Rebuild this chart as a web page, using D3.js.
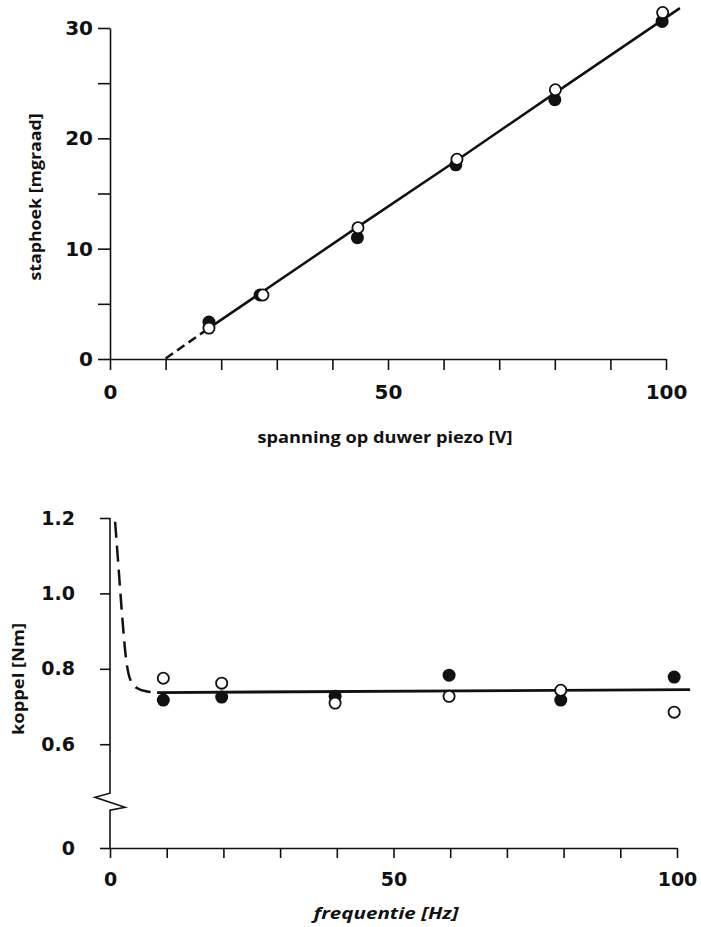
<!DOCTYPE html>
<html>
<head>
<meta charset="utf-8">
<script src="https://cdn.jsdelivr.net/npm/d3@7"></script>
<style>
  body { margin: 0; background: #fff; }
  text { font-family: "DejaVu Sans", sans-serif; font-weight: 700; fill: #111; }
  .title { font-family: "Open Sans", Lato, sans-serif; font-weight: 700; }
</style>
</head>
<body>
<div id="viz"></div>
<script>
// ---- data: top chart (step angle vs piezo voltage)
var top_x_filled = [17.8, 27.0, 44.5, 62.2, 80.0, 99.3];
var top_y_filled = [3.35, 5.8, 11.0, 17.6, 23.5, 30.6];
var top_x_open = [17.8, 27.5, 44.6, 62.4, 80.1, 99.4];
var top_y_open = [2.8, 5.8, 11.9, 18.1, 24.4, 31.4];
var top_fit_dash = [[10, 0.05], [17.8, 2.8]];
var top_fit_solid = [[17.8, 2.8], [44.5, 11.95], [62.2, 17.95], [80, 24.1], [102.5, 31.8]];
var top_x_ticks = [0, 10, 20, 30, 40, 50, 60, 70, 80, 90, 100];
var top_y_ticks = [0, 5, 10, 15, 20, 25, 30];
var top_x_labels = [0, 50, 100];
var top_y_labels = [0, 10, 20, 30];

// ---- data: bottom chart (torque vs frequency)
var bot_freq = [9.4, 19.7, 39.7, 59.8, 79.5, 99.5];
var bot_filled = [0.717, 0.725, 0.727, 0.783, 0.717, 0.778];
var bot_open = [0.775, 0.762, 0.709, 0.727, 0.743, 0.685];
var bot_fit_dash = [[0.9, 1.19], [1.5, 1.07], [2.2, 0.93], [2.8, 0.83], [3.3, 0.785], [4.0, 0.76], [5.0, 0.747], [6.5, 0.74], [8.3, 0.737]];
var bot_fit_solid = [[8.3, 0.737], [102.3, 0.745]];
var bot_x_ticks = [0, 10, 20, 30, 40, 50, 60, 70, 80, 90, 100];
var bot_x_labels = [0, 50, 100];
var bot_y_ticks = [0, 0.6, 0.8, 1.0, 1.2];
var bot_y_labels = ["0", "0.6", "0.8", "1.0", "1.2"];

var svg = d3.select("#viz")
    .append("svg")
    .attr("width", 701)
    .attr("height", 927);

svg.append("rect").attr("width", 701).attr("height", 927).attr("fill", "#fff");

// helper for the axis titles (stretched to the reference length)
function addTitle(x, y, rot, len, txt, italic) {
    svg.append("text")
        .attr("class", "title")
        .attr("text-anchor", "middle")
        .attr("transform", "translate(" + x + "," + y + ")" + (rot ? " rotate(-90)" : ""))
        .attr("textLength", len)
        .attr("lengthAdjust", "spacingAndGlyphs")
        .style("font-size", "16px")
        .style("font-style", italic ? "italic" : "normal")
        .text(txt);
}

// ================= top chart =================
var x1 = d3.scaleLinear().domain([0, 100]).range([110, 666]);
var y1 = d3.scaleLinear().domain([0, 30]).range([359, 28]);

// X axis
var gx1 = svg.append("g")
    .attr("transform", "translate(0," + y1(0) + ")")
    .call(d3.axisBottom(x1)
        .tickValues(top_x_ticks)
        .tickSize(11)
        .tickSizeOuter(0)
        .tickPadding(15)
        .tickFormat(function (d) { return top_x_labels.indexOf(d) >= 0 ? d : ""; }));

// Y axis
var gy1 = svg.append("g")
    .attr("transform", "translate(" + x1(0) + ",0)")
    .call(d3.axisLeft(y1)
        .tickValues(top_y_ticks)
        .tickSize(12)
        .tickSizeOuter(0)
        .tickPadding(5)
        .tickFormat(function (d) { return top_y_labels.indexOf(d) >= 0 ? d : ""; }));

[gx1, gy1].forEach(function (g) {
    g.select(".domain").attr("stroke", "#111").attr("stroke-width", 1.6);
    g.selectAll(".tick line").attr("stroke", "#111").attr("stroke-width", 1.6);
    g.selectAll(".tick text").style("font-size", "20px").attr("fill", "#111");
});

// axis titles
addTitle(385, 443, false, 255, "spanning op duwer piezo [V]", false);
addTitle(41, 197, true, 167, "staphoek [mgraad]", false);

var line1 = d3.line()
    .x(function (d) { return x1(d[0]); })
    .y(function (d) { return y1(d[1]); });

// fit line, dashed near the origin
svg.append("path")
    .attr("d", line1(top_fit_dash))
    .attr("fill", "none")
    .attr("stroke", "#111")
    .attr("stroke-width", 2.5)
    .attr("stroke-dasharray", "9,5");

svg.append("path")
    .attr("d", line1(top_fit_solid))
    .attr("fill", "none")
    .attr("stroke", "#111")
    .attr("stroke-width", 2.5);

// filled points first, open points on top
svg.selectAll(".topFilled")
    .data(top_x_filled)
    .enter()
    .append("circle")
    .attr("cx", function (d) { return x1(d); })
    .attr("cy", function (d, i) { return y1(top_y_filled[i]); })
    .attr("r", 6.5)
    .attr("fill", "#111");

svg.selectAll(".topOpen")
    .data(top_x_open)
    .enter()
    .append("circle")
    .attr("cx", function (d) { return x1(d); })
    .attr("cy", function (d, i) { return y1(top_y_open[i]); })
    .attr("r", 5.6)
    .attr("fill", "#fff")
    .attr("stroke", "#111")
    .attr("stroke-width", 1.8);

// ================= bottom chart =================
var x2 = d3.scaleLinear().domain([0, 100]).range([110, 677]);
// broken axis: piecewise scale, gap between 0 and 0.46
var y2 = d3.scaleLinear().domain([0, 0.46, 1.2]).range([848, 797, 518]);

var gx2 = svg.append("g")
    .attr("transform", "translate(0," + y2(0) + ")")
    .call(d3.axisBottom(x2)
        .tickValues(bot_x_ticks)
        .tickSize(10)
        .tickSizeOuter(0)
        .tickPadding(15)
        .tickFormat(function (d) { return bot_x_labels.indexOf(d) >= 0 ? d : ""; }));

var gy2 = svg.append("g")
    .attr("transform", "translate(" + x2(0) + ",0)")
    .call(d3.axisLeft(y2)
        .tickValues(bot_y_ticks)
        .tickSize(10)
        .tickSizeOuter(0)
        .tickPadding(25)
        .tickFormat(function (d, i) { return bot_y_labels[i]; }));

[gx2, gy2].forEach(function (g) {
    g.selectAll(".tick line").attr("stroke", "#111").attr("stroke-width", 1.6);
    g.selectAll(".tick text").style("font-size", "19px").attr("fill", "#111");
});
gx2.select(".domain").attr("stroke", "#111").attr("stroke-width", 1.6);
gy2.select(".domain").remove();

// y axis with zigzag break
var ax = x2(0);
svg.append("path")
    .attr("d", "M" + ax + "," + y2(1.2) + "V" + y2(0.47) +
        "L" + (ax - 15) + "," + (y2(0.47) + 4) +
        "L" + (ax + 15) + "," + (y2(0.47) + 14) +
        "L" + ax + "," + (y2(0.47) + 17) +
        "V" + y2(0))
    .attr("fill", "none")
    .attr("stroke", "#111")
    .attr("stroke-width", 1.6);

addTitle(386, 919, false, 145, "frequentie [Hz]", true);
addTitle(24, 679, true, 112, "koppel [Nm]", false);

var line2 = d3.line()
    .x(function (d) { return x2(d[0]); })
    .y(function (d) { return y2(d[1]); });

svg.append("path")
    .attr("d", line2.curve(d3.curveMonotoneX)(bot_fit_dash))
    .attr("fill", "none")
    .attr("stroke", "#111")
    .attr("stroke-width", 2.5)
    .attr("stroke-dasharray", "16,8");

svg.append("path")
    .attr("d", line2.curve(d3.curveLinear)(bot_fit_solid))
    .attr("fill", "none")
    .attr("stroke", "#111")
    .attr("stroke-width", 2.8);

svg.selectAll(".botFilled")
    .data(bot_freq)
    .enter()
    .append("circle")
    .attr("cx", function (d) { return x2(d); })
    .attr("cy", function (d, i) { return y2(bot_filled[i]); })
    .attr("r", 6.5)
    .attr("fill", "#111");

svg.selectAll(".botOpen")
    .data(bot_freq)
    .enter()
    .append("circle")
    .attr("cx", function (d) { return x2(d); })
    .attr("cy", function (d, i) { return y2(bot_open[i]); })
    .attr("r", 5.6)
    .attr("fill", "#fff")
    .attr("stroke", "#111")
    .attr("stroke-width", 1.8);
</script>
</body>
</html>
